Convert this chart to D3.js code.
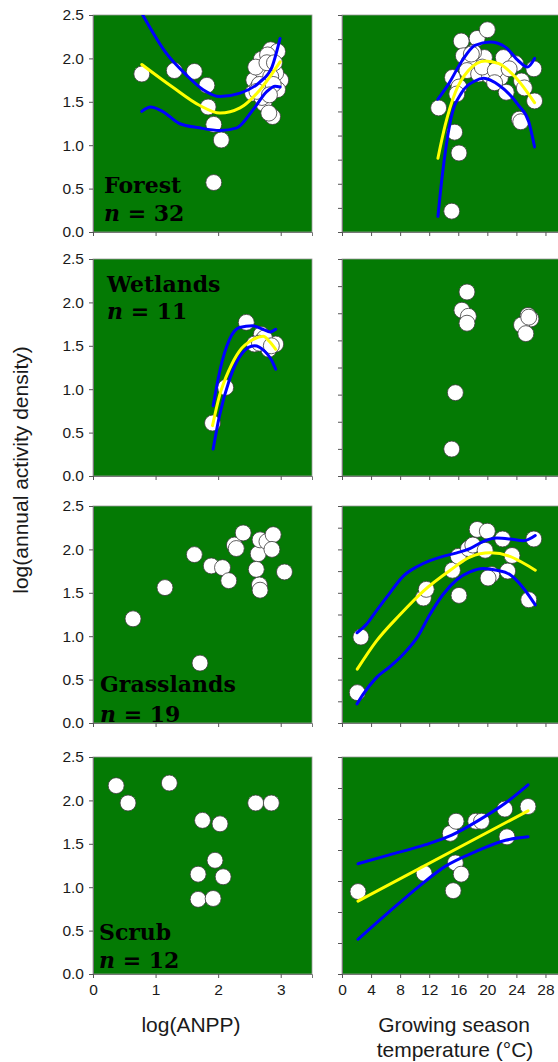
<!DOCTYPE html>
<html lang="en">
<head>
<meta charset="UTF-8">
<title>Activity density panels</title>
<script src="https://cdn.jsdelivr.net/npm/d3@7"></script>
<style>
  body { margin: 0; background: #fff; }
  text { font-family: "Liberation Sans", Arial, sans-serif; }
</style>
</head>
<body>
<script>
// ---- data ----
var habitats = ["Forest", "Wetlands", "Grasslands", "Scrub"];
var sampleSizes = [32, 11, 19, 12];
var anppTicks = [0, 1, 2, 3];
var tempTicks = [0, 4, 8, 12, 16, 20, 24, 28];
var densityTicks = [0, 0.5, 1.0, 1.5, 2.0, 2.5];
var tempTickDivisions = [9, 8, 10, 7];   // unlabelled right-hand y ticks

// forest, log(ANPP)
var forestAnpp = [[0.78,1.82],[1.30,1.86],[1.62,1.85],[1.82,1.69],[1.84,1.44],[1.93,1.24],[2.05,1.06],[1.93,0.57],
  [2.69,1.99],[2.84,2.10],[2.95,2.08],[2.79,2.04],[2.57,1.75],[2.71,1.85],[3.00,1.75],[2.92,1.83],
  [2.55,1.60],[2.73,1.66],[2.95,1.64],[2.73,1.48],[2.87,1.33],[2.81,1.37],[2.63,1.66],[2.84,1.79],
  [2.60,1.90],[2.78,1.95],[2.66,1.70],[2.88,1.70],[2.90,1.95],[2.70,1.55],[2.62,1.62],[2.82,1.58]];
var forestAnppFit = [[0.78,1.93],[1.27,1.67],[1.70,1.46],[2.03,1.37],[2.35,1.43],[2.67,1.64],[2.99,1.96]];
var forestAnppHi = [[0.78,2.52],[1.17,2.06],[1.49,1.81],[1.76,1.64],[2.03,1.56],[2.35,1.60],[2.67,1.73],[2.86,1.90],[2.99,2.23]];
var forestAnppLo = [[0.78,1.39],[0.92,1.44],[1.11,1.39],[1.38,1.25],[1.70,1.20],[2.03,1.17],[2.30,1.20],[2.56,1.41],[2.78,1.62],[2.91,1.68],[2.99,1.67]];

// forest, temperature
var forestTemp = [[13.3,1.43],[16.4,2.20],[18.6,2.23],[20.0,2.33],[16.7,2.03],[17.5,1.96],[19.6,2.01],[22.2,2.01],
  [23.9,1.94],[26.4,1.88],[15.2,1.78],[16.1,1.67],[15.8,1.59],[17.2,1.86],[18.8,1.82],[20.3,1.80],
  [21.8,1.78],[22.6,1.61],[24.7,1.74],[25.1,1.66],[26.5,1.51],[24.4,1.30],[24.6,1.27],[15.5,1.15],
  [16.1,0.91],[15.1,0.24],[19.3,1.90],[21.1,1.86],[18.1,2.07],[17.8,2.05],[21.0,1.72],[23.0,1.88]];
var forestTempFit = [[13.2,0.85],[14.2,1.23],[15.6,1.61],[17.4,1.86],[19.7,1.97],[21.6,1.94],[23.9,1.78],[26.5,1.49]];
var forestTempHi = [[13.2,1.53],[14.7,1.71],[16.5,1.97],[18.3,2.15],[20.4,2.19],[22.5,2.13],[24.3,1.97],[25.5,1.90],[26.5,2.00]];
var forestTempLo = [[13.2,0.18],[13.8,0.65],[14.9,1.27],[16.5,1.61],[18.3,1.74],[19.5,1.77],[21.6,1.69],[24.3,1.46],[25.7,1.27],[26.5,0.98]];

// wetlands, log(ANPP)
var wetAnpp = [[1.91,0.61],[2.12,1.02],[2.45,1.77],[2.69,1.63],[2.72,1.57],[2.58,1.52],[2.81,1.46],[2.92,1.52],[2.74,1.59],[2.66,1.53],[2.85,1.50]];
var wetAnppFit = [[1.91,0.58],[2.02,0.92],[2.18,1.23],[2.34,1.44],[2.55,1.57],[2.72,1.61],[2.82,1.55],[2.92,1.46]];
var wetAnppHi = [[1.92,0.81],[2.02,1.19],[2.18,1.57],[2.34,1.71],[2.55,1.73],[2.72,1.69],[2.83,1.66],[2.92,1.69]];
var wetAnppLo = [[1.92,0.31],[2.02,0.69],[2.18,1.11],[2.39,1.42],[2.58,1.50],[2.74,1.44],[2.85,1.34],[2.92,1.23]];

// wetlands, temperature
var wetTemp = [[17.2,2.12],[16.5,1.91],[17.4,1.84],[17.2,1.76],[15.6,0.96],[15.1,0.31],[25.6,1.85],[26.0,1.81],[24.7,1.74],[25.3,1.64],[25.7,1.83]];

// grasslands, log(ANPP)
var grassAnpp = [[0.64,1.20],[1.15,1.56],[1.62,1.94],[1.71,0.69],[1.89,1.81],[2.07,1.79],[2.17,1.64],[2.26,2.05],[2.29,2.01],
  [2.40,2.19],[2.64,1.95],[2.61,1.77],[2.67,2.11],[2.66,1.59],[2.67,1.53],[2.78,2.09],[2.88,2.17],[2.86,2.00],[3.06,1.74]];

// grasslands, temperature
var grassTemp = [[2.6,0.99],[2.1,0.35],[11.2,1.44],[11.6,1.54],[15.2,1.76],[16.1,1.47],[16.0,1.92],[17.4,2.01],[18.0,2.05],
  [18.6,2.23],[20.0,2.21],[19.7,1.99],[20.6,1.71],[20.1,1.67],[22.1,2.12],[23.4,1.93],[22.8,1.75],[25.7,1.42],[26.4,2.12]];
var grassTempFit = [[2.1,0.62],[4.7,0.94],[8.0,1.25],[11.2,1.52],[14.9,1.76],[17.6,1.91],[20.4,1.96],[23.1,1.92],[25.0,1.84],[26.6,1.76]];
var grassTempHi = [[2.07,1.04],[3.4,1.14],[4.7,1.29],[6.6,1.50],[8.4,1.69],[10.3,1.80],[12.1,1.87],[13.9,1.92],[15.8,1.96],
  [17.6,2.01],[19.4,2.09],[21.3,2.13],[23.1,2.12],[25.0,2.10],[26.6,2.16]];
var grassTempLo = [[2.07,0.22],[2.9,0.33],[4.7,0.52],[6.6,0.65],[8.4,0.79],[10.3,0.98],[12.1,1.25],[13.9,1.48],[15.8,1.65],
  [17.6,1.74],[19.4,1.78],[21.3,1.76],[23.1,1.71],[25.0,1.55],[26.6,1.36]];

// scrub, log(ANPP)
var scrubAnpp = [[0.37,2.17],[0.56,1.97],[1.22,2.20],[1.75,1.77],[2.03,1.73],[1.95,1.31],[1.68,1.15],[2.08,1.12],[1.68,0.86],[1.92,0.87],[2.60,1.97],[2.85,1.97]];

// scrub, temperature
var scrubTemp = [[2.2,0.95],[11.3,1.16],[14.9,1.62],[15.7,1.76],[15.6,1.28],[16.4,1.15],[15.3,0.96],[18.4,1.76],[19.2,1.76],[22.4,1.90],[22.7,1.58],[25.6,1.93]];
var scrubTempFit = [[2.2,0.84],[25.6,1.88]];
var scrubTempHi = [[2.2,1.27],[6.4,1.37],[11.5,1.49],[15.1,1.60],[18.8,1.77],[22.5,1.97],[25.6,2.18]];
var scrubTempLo = [[2.2,0.40],[6.4,0.71],[10.6,1.01],[14.2,1.24],[18.4,1.41],[22.5,1.54],[25.6,1.58]];

var leftSeries = [
  { pts: forestAnpp, fit: forestAnppFit, hi: forestAnppHi, lo: forestAnppLo },
  { pts: wetAnpp, fit: wetAnppFit, hi: wetAnppHi, lo: wetAnppLo },
  { pts: grassAnpp },
  { pts: scrubAnpp }
];
var rightSeries = [
  { pts: forestTemp, fit: forestTempFit, hi: forestTempHi, lo: forestTempLo },
  { pts: wetTemp },
  { pts: grassTemp, fit: grassTempFit, hi: grassTempHi, lo: grassTempLo },
  { pts: scrubTemp, fit: scrubTempFit, hi: scrubTempHi, lo: scrubTempLo }
];

// ---- layout ----
var width = 558, height = 1062;
var panelTops = [15, 259, 506, 757];
var panelH = 217;
var leftX = [93, 312], rightX = [342, 560];
// label positions relative to each panel: [x, name baseline, n baseline]
var labelPos = [[104, 178, 206], [107, 33, 60], [100, 186, 216], [99, 183, 211]];
var green = "#047a04";

var svg = d3.select("body").append("svg")
  .attr("width", width)
  .attr("height", height);

var xAnpp = d3.scaleLinear().domain([0, 3.5]).range(leftX);
var xTemp = d3.scaleLinear().domain([0, 30]).range(rightX);

function drawPanel(i, xs, series, isLeft) {
  var top = panelTops[i];
  var y = d3.scaleLinear().domain([0, 2.5]).range([top + panelH, top]);
  var x0 = xs.range()[0], x1 = xs.range()[1];
  var id = "clip" + i + (isLeft ? "L" : "R");

  svg.append("clipPath").attr("id", id)
    .append("rect").attr("x", x0).attr("y", top).attr("width", x1 - x0).attr("height", panelH);

  svg.append("rect")
    .attr("x", x0).attr("y", top)
    .attr("width", x1 - x0).attr("height", panelH)
    .attr("fill", green)
    .attr("stroke", "#9a9a9a").attr("stroke-width", 0.8);

  // y axis
  var yAxis = d3.axisLeft(y).tickSizeOuter(0).tickSize(4).tickPadding(5);
  if (isLeft) {
    yAxis.tickValues(densityTicks).tickFormat(d3.format(".1f"));
  } else {
    var n = tempTickDivisions[i];
    yAxis.tickValues(d3.range(n + 1).map(function (k) { return 2.5 * k / n; })).tickFormat("");
  }
  var gy = svg.append("g").attr("transform", "translate(" + x0 + ",0)").call(yAxis);

  // x axis
  var xAxis = d3.axisBottom(xs).tickSizeOuter(0).tickSize(4).tickPadding(6)
    .tickValues(isLeft ? anppTicks : tempTicks)
    .tickFormat(i < 3 ? "" : d3.format("d"));
  var gx = svg.append("g").attr("transform", "translate(0," + (top + panelH) + ")").call(xAxis);

  [gx, gy].forEach(function (g) {
    g.select(".domain").attr("stroke", "#777").attr("stroke-width", 1);
    g.selectAll(".tick line").attr("stroke", "#555");
    g.selectAll(".tick text").attr("fill", "#1a1a1a")
      .style("font-family", "'Liberation Sans', Arial, sans-serif")
      .style("font-size", "15.5px");
  });

  var plot = svg.append("g").attr("clip-path", "url(#" + id + ")");
  var line = d3.line()
    .x(function (d) { return xs(d[0]); })
    .y(function (d) { return y(d[1]); })
    .curve(d3.curveMonotoneX);

  plot.selectAll("circle")
    .data(series.pts)
    .enter()
    .append("circle")
    .attr("cx", function (d) { return xs(d[0]); })
    .attr("cy", function (d) { return y(d[1]); })
    .attr("r", 8)
    .attr("fill", "#fff")
    .attr("stroke", "#3a3a3a")
    .attr("stroke-width", 0.8);

  if (series.fit) {
    [[series.hi, "#0000ff"], [series.lo, "#0000ff"], [series.fit, "#ffff00"]].forEach(function (c) {
      plot.append("path")
        .attr("d", line(c[0]))
        .attr("fill", "none")
        .attr("stroke", c[1])
        .attr("stroke-width", 3)
        .attr("stroke-linecap", "round");
    });
  }

  if (isLeft) {
    var lp = labelPos[i];
    var lab = svg.append("g")
      .style("font-weight", "bold")
      .style("font-size", "22px")
      .attr("fill", "#000");
    lab.append("text").attr("x", lp[0]).attr("y", top + lp[1])
      .style("font-family", "'DejaVu Serif', Georgia, serif")
      .text(habitats[i]);
    var t = lab.append("text").attr("x", lp[0]).attr("y", top + lp[2])
      .style("font-family", "'DejaVu Serif', Georgia, serif");
    t.append("tspan").style("font-style", "italic").text("n");
    t.append("tspan").text(" = " + sampleSizes[i]);
  }
}

for (var i = 0; i < 4; i++) {
  drawPanel(i, xAnpp, leftSeries[i], true);
  drawPanel(i, xTemp, rightSeries[i], false);
}

// axis titles
svg.append("text")
  .attr("transform", "translate(28,470) rotate(-90)")
  .attr("text-anchor", "middle")
  .style("font-size", "21px")
  .attr("fill", "#1a1a1a")
  .text("log(annual activity density)");

svg.append("text")
  .attr("x", 191).attr("y", 1032)
  .attr("text-anchor", "middle")
  .style("font-size", "21px")
  .attr("fill", "#1a1a1a")
  .text("log(ANPP)");

svg.append("text")
  .attr("x", 454).attr("y", 1032)
  .attr("text-anchor", "middle")
  .style("font-size", "21px")
  .attr("fill", "#1a1a1a")
  .text("Growing season");

svg.append("text")
  .attr("x", 455).attr("y", 1057)
  .attr("text-anchor", "middle")
  .style("font-size", "21px")
  .attr("fill", "#1a1a1a")
  .text("temperature (°C)");
</script>
</body>
</html>
